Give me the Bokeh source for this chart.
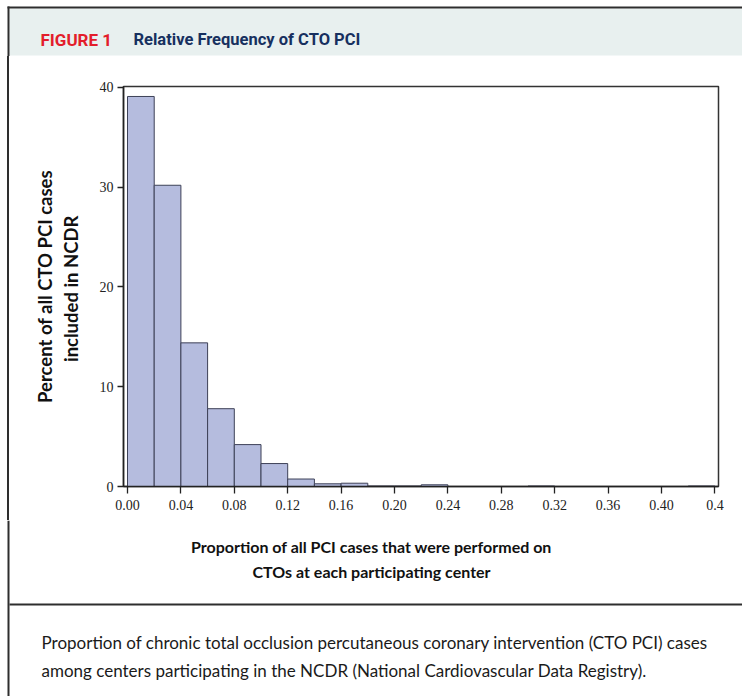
import math
from bokeh.plotting import figure
from bokeh.layouts import column, row
from bokeh.models import Range1d, FixedTicker
from bokeh.core.properties import value
from bokeh.embed import file_html
from bokeh.resources import INLINE

# ---------------- data ----------------
bin_left = [0.00, 0.02, 0.04, 0.06, 0.08, 0.10, 0.12, 0.14, 0.16, 0.18, 0.20, 0.22,
            0.24, 0.26, 0.28, 0.30, 0.32, 0.34, 0.36, 0.38, 0.40, 0.42]
percent = [39.1, 30.2, 14.4, 7.8, 4.2, 2.3, 0.75, 0.27, 0.33, 0.05, 0.05, 0.17,
           0.0, 0.0, 0.0, 0.05, 0.0, 0.0, 0.0, 0.0, 0.0, 0.05]
bin_width = 0.02
x_ticks = [0.00, 0.04, 0.08, 0.12, 0.16, 0.20, 0.24, 0.28, 0.32, 0.36, 0.40, 0.44]
x_tick_labels = ["0.00", "0.04", "0.08", "0.12", "0.16", "0.20", "0.24", "0.28",
                 "0.32", "0.36", "0.40", "0.4"]
y_ticks = [0, 10, 20, 30, 40]

header_tag = "FIGURE 1"
header_title = "Relative Frequency of CTO PCI"
y_label = ["Percent of all CTO PCI cases", "included in  NCDR"]
x_label = ["Proportion of all PCI cases that were performed on",
           "CTOs at each participating center"]
caption = ["Proportion of chronic total occlusion percutaneous coronary intervention (CTO PCI) cases",
           "among centers participating in the NCDR (National Cardiovascular Data Registry)."]

# ---------------- layout constants (pixels) ----------------
W, H = 742, 696
HEAD_H = 56          # header strip height
MID_B = 520          # bottom of middle row
FL, FR, FT, FB = 123, 718, 86, 486      # plot frame in page pixels
X0, X1 = -0.003, 0.4427
Y0, Y1 = 0.0, 40.1
BORDER = "#2e2e2e"


def deco_fig(x0, x1, y0, y1):
    """A figure whose data coordinates are page pixels (y downwards)."""
    f = figure(width=x1 - x0, height=y1 - y0, output_backend="svg",
               toolbar_location=None, x_range=Range1d(x0, x1),
               y_range=Range1d(y1, y0), x_axis_type=None, y_axis_type=None,
               min_border=0, min_border_left=0, min_border_right=0,
               min_border_top=0, min_border_bottom=0)
    f.outline_line_color = None
    f.grid.visible = False
    f.background_fill_color = "white"
    f.border_fill_color = "white"
    return f


def rect(f, l, r, t, b, color):
    f.quad(left=[l], right=[r], top=[t], bottom=[b], fill_color=color,
           line_color=None)


def txt(f, text, x, y, size, color="#111111", font="Lato", style="normal",
        align="left", baseline="alphabetic", angle=0.0):
    f.text(x=[x], y=[y], text=[text], text_font=value(font),
           text_font_size=value(size), text_color=color, text_font_style=style,
           text_align=align, text_baseline=baseline, angle=angle)


# ---------- header ----------
head = deco_fig(0, W, 0, HEAD_H)
rect(head, 9, W, 55, 8, "#e8f0ef")
rect(head, 7, W, 8, 6, BORDER)
rect(head, 7, 9, HEAD_H, 6, BORDER)
txt(head, header_tag, 40, 39, "17px", color="#e31d2b", font="Roboto", style="bold")
txt(head, header_title, 133, 39, "16.5px", color="#17305f", font="Roboto", style="bold")

# ---------- main histogram ----------
p = figure(width=W, height=MID_B - HEAD_H, output_backend="svg",
           toolbar_location=None, x_range=Range1d(X0, X1), y_range=Range1d(Y0, Y1),
           min_border_left=FL, min_border_right=W - FR,
           min_border_top=FT - HEAD_H, min_border_bottom=MID_B - FB)
p.background_fill_color = "white"
p.border_fill_color = None
p.outline_line_color = "#333333"
p.outline_line_width = 1.5
p.xgrid.visible = False
p.ygrid.visible = False

rights = [b + bin_width for b in bin_left]
p.quad(left=bin_left, right=rights, top=percent, bottom=0,
       fill_color="#b5bcde", line_color="#3d4157", line_width=1)

for ax in (p.xaxis[0], p.yaxis[0]):
    ax.axis_line_color = "#222222"
    ax.axis_line_width = 1.5
    ax.major_tick_line_color = "#222222"
    ax.major_tick_line_width = 1.3
    ax.major_tick_in = 0
    ax.minor_tick_line_color = None
    ax.major_label_text_font = "Liberation Serif"
    ax.major_label_text_font_size = "14px"
    ax.major_label_text_color = "#222222"

p.xaxis.ticker = FixedTicker(ticks=x_ticks)
p.xaxis.major_label_overrides = {t: s for t, s in zip(x_ticks, x_tick_labels)}
p.xaxis.major_tick_out = 7
p.xaxis.major_label_standoff = 6
p.yaxis.ticker = FixedTicker(ticks=y_ticks)
p.yaxis.major_tick_out = 6
p.yaxis.major_label_standoff = 4
p.yaxis.axis_label = "\n".join(y_label)
p.yaxis.axis_label_text_font = "Lato"
p.yaxis.axis_label_text_font_style = "bold"
p.yaxis.axis_label_text_font_size = "18.5px"
p.yaxis.axis_label_text_color = "#111111"
p.yaxis.axis_label_text_line_height = 1.15
p.yaxis.axis_label_standoff = 15

mid = row(p, styles={"background": "linear-gradient(to right, white 0px, white 7px, "
                                   "#2e2e2e 7px, #2e2e2e 9px, white 9px, white 100%)"})

# ---------- bottom (x label + caption) ----------
bottom = deco_fig(0, W, MID_B, H)
rect(bottom, 7, 9, H, MID_B, BORDER)
rect(bottom, 9, W, 605, 603, BORDER)
txt(bottom, x_label[0], 371, 546, "16px", style="bold", align="center")
txt(bottom, x_label[1], 371, 571, "16px", style="bold", align="center")
txt(bottom, caption[0], 41, 642, "17px", color="#1a1a1a")
txt(bottom, caption[1], 41, 670, "17px", color="#1a1a1a")

layout = column(head, mid, bottom, spacing=0)
open("out.html", "w").write(file_html(layout, INLINE))
